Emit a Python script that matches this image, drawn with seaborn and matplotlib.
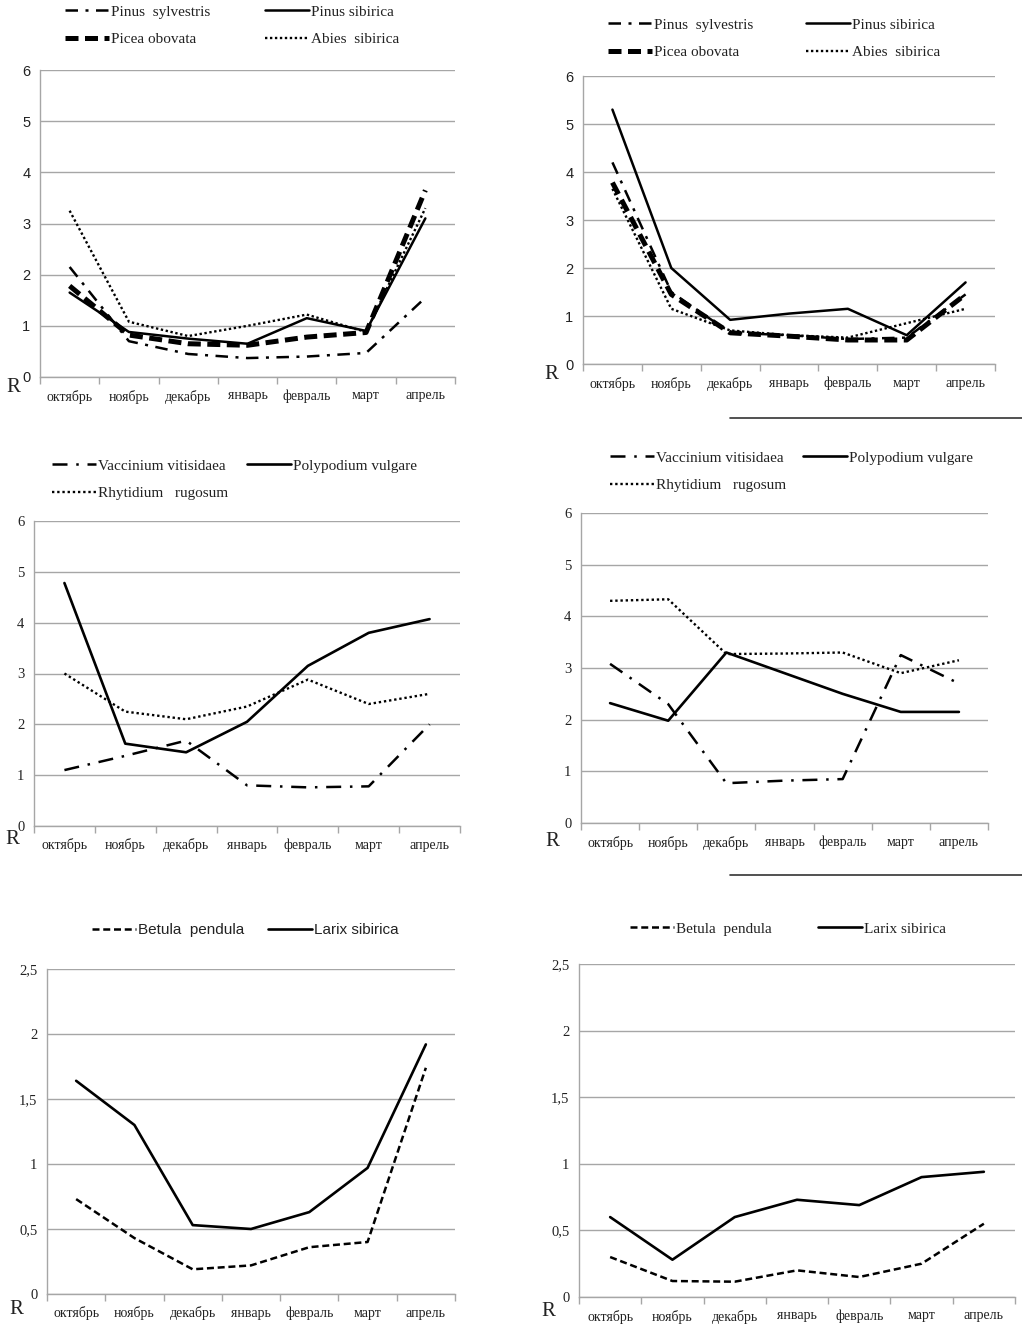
import matplotlib.pyplot as plt
import seaborn as sns
from matplotlib.lines import Line2D
from matplotlib.ticker import FixedLocator, FuncFormatter

sns.set_theme(style="white")
plt.rcParams['font.family'] = ['Liberation Serif', 'DejaVu Serif']

W, H = 1022, 1337

months = ['октябрь', 'ноябрь', 'декабрь', 'январь', 'февраль', 'март', 'апрель']

# conifers, left / right
pin_syl_a = [2.15, 0.70, 0.45, 0.37, 0.40, 0.47, 1.55]
pin_sib_a = [1.65, 0.88, 0.75, 0.65, 1.15, 0.90, 3.10]
picea_a = [1.78, 0.82, 0.65, 0.62, 0.78, 0.87, 3.65]
abies_a = [3.25, 1.08, 0.80, 1.00, 1.22, 0.88, 3.30]

pin_syl_b = [4.20, 1.50, 0.65, 0.60, 0.52, 0.55, 1.45]
pin_sib_b = [5.30, 2.00, 0.92, 1.05, 1.15, 0.60, 1.70]
picea_b = [3.78, 1.45, 0.65, 0.58, 0.50, 0.50, 1.45]
abies_b = [3.65, 1.15, 0.70, 0.60, 0.55, 0.85, 1.15]

# shrubs, ferns, mosses
vacc_a = [1.10, 1.38, 1.68, 0.80, 0.76, 0.78, 2.00]
poly_a = [4.78, 1.62, 1.45, 2.05, 3.15, 3.80, 4.07]
rhyt_a = [3.00, 2.25, 2.10, 2.35, 2.88, 2.40, 2.60]

vacc_b = [3.08, 2.30, 0.77, 0.82, 0.85, 3.25, 2.70]
poly_b = [2.32, 1.98, 3.30, 2.90, 2.50, 2.15, 2.15]
rhyt_b = [4.30, 4.33, 3.27, 3.28, 3.30, 2.90, 3.15]

# deciduous
betula_a = [0.73, 0.43, 0.19, 0.22, 0.36, 0.40, 1.74]
larix_a = [1.64, 1.30, 0.53, 0.50, 0.63, 0.97, 1.92]

betula_b = [0.30, 0.12, 0.115, 0.20, 0.15, 0.25, 0.55]
larix_b = [0.60, 0.28, 0.60, 0.73, 0.69, 0.90, 0.94]

styles = {
    'Pinus  sylvestris': dict(linestyle=(0, (5, 3, 1.2, 3)), linewidth=1.8),
    'Pinus sibirica': dict(linestyle='-', linewidth=1.8),
    'Picea obovata': dict(linestyle=(0, (2.6, 1.3)), linewidth=3.6),
    'Abies  sibirica': dict(linestyle=(0, (1, 1.1)), linewidth=1.7),
    'Vaccinium vitisidaea': dict(linestyle=(0, (6, 3.5, 1, 3.5)), linewidth=1.8),
    'Polypodium vulgare': dict(linestyle='-', linewidth=1.9),
    'Rhytidium   rugosum': dict(linestyle=(0, (1, 1.2)), linewidth=1.7),
    'Betula  pendula': dict(linestyle=(0, (2.8, 1.5)), linewidth=1.8),
    'Larix sibirica': dict(linestyle='-', linewidth=1.9),
}


def box(left, right, top, bottom):
    return [left / W, 1 - bottom / H, (right - left) / W, (bottom - top) / H]


def fc(x, y):
    return (x / W, 1 - y / H)


def comma(v, pos):
    return f"{v:g}".replace('.', ',')


def draw_panel(rect, series, ymax, ystep, ytick_font, legend_cols, legend_font, r_pos):
    ax = fig.add_axes(box(*rect))
    handles = {}
    for name, vals in series:
        sns.lineplot(x=months, y=vals, ax=ax, color='black', sort=False,
                     label=name, **styles[name])
        handles[name] = ax.get_lines()[-1]
    ax.get_legend().remove()
    ax.set_xlim(-0.5, 6.5)
    ax.set_ylim(0, ymax)
    yt = [i * ystep for i in range(int(round(ymax / ystep)) + 1)]
    ax.yaxis.set_major_locator(FixedLocator(yt))
    ax.yaxis.set_major_formatter(FuncFormatter(comma))
    ax.grid(axis='y', color='#a6a6a6', linewidth=1.0)
    ax.set_axisbelow(True)
    for s in ['top', 'right']:
        ax.spines[s].set_visible(False)
    for s in ['left', 'bottom']:
        ax.spines[s].set_color('#a6a6a6')
        ax.spines[s].set_linewidth(1.0)
    ax.set_xticks(range(7))
    ax.set_xticks([i - 0.5 for i in range(8)], minor=True)
    ax.tick_params(axis='x', which='major', length=0, pad=9, labelsize=10, colors='#222222')
    ax.tick_params(axis='x', which='minor', length=5, width=1, color='#a6a6a6', bottom=True)
    ax.tick_params(axis='y', length=0, pad=7, labelsize=10.5, colors='#222222')
    for t in ax.get_yticklabels():
        t.set_fontfamily(ytick_font)
    ax.set_xlabel('')
    ax.set_ylabel('')
    for (x, y, names) in legend_cols:
        leg = fig.legend([handles[n] for n in names], names, loc='upper left',
                         bbox_to_anchor=fc(x, y), bbox_transform=fig.transFigure,
                         frameon=False, borderpad=0, borderaxespad=0, handlelength=2.9,
                         handletextpad=0.1, labelspacing=0.9,
                         prop=dict(family=legend_font, size=11))
        for t in leg.get_texts():
            t.set_color('#222222')
    fig.text(*fc(*r_pos), 'R', fontsize=15, ha='left', va='center', color='#222222')
    return ax


fig = plt.figure(figsize=(W / 100, H / 100), dpi=100)

draw_panel((40, 455, 70, 377),
           [('Pinus  sylvestris', pin_syl_a), ('Pinus sibirica', pin_sib_a),
            ('Picea obovata', picea_a), ('Abies  sibirica', abies_a)],
           6, 1, 'Liberation Sans',
           [(65, 5, ['Pinus  sylvestris', 'Picea obovata']),
            (265, 5, ['Pinus sibirica', 'Abies  sibirica'])],
           'Liberation Serif', (6, 387))

draw_panel((583, 995, 76, 364),
           [('Pinus  sylvestris', pin_syl_b), ('Pinus sibirica', pin_sib_b),
            ('Picea obovata', picea_b), ('Abies  sibirica', abies_b)],
           6, 1, 'Liberation Sans',
           [(608, 18, ['Pinus  sylvestris', 'Picea obovata']),
            (806, 18, ['Pinus sibirica', 'Abies  sibirica'])],
           'Liberation Serif', (544, 375))

draw_panel((34, 460, 521, 826),
           [('Vaccinium vitisidaea', vacc_a), ('Polypodium vulgare', poly_a),
            ('Rhytidium   rugosum', rhyt_a)],
           6, 1, 'Liberation Serif',
           [(52, 459, ['Vaccinium vitisidaea', 'Rhytidium   rugosum']),
            (247, 459, ['Polypodium vulgare'])],
           'Liberation Serif', (5, 840))

draw_panel((581, 988, 513, 823),
           [('Vaccinium vitisidaea', vacc_b), ('Polypodium vulgare', poly_b),
            ('Rhytidium   rugosum', rhyt_b)],
           6, 1, 'Liberation Serif',
           [(610, 451, ['Vaccinium vitisidaea', 'Rhytidium   rugosum']),
            (803, 451, ['Polypodium vulgare'])],
           'Liberation Serif', (545, 841))

draw_panel((47, 455, 969, 1294),
           [('Betula  pendula', betula_a), ('Larix sibirica', larix_a)],
           2.5, 0.5, 'Liberation Serif',
           [(92, 923, ['Betula  pendula']), (268, 923, ['Larix sibirica'])],
           'Liberation Sans', (9, 1310))

draw_panel((579, 1015, 964, 1297),
           [('Betula  pendula', betula_b), ('Larix sibirica', larix_b)],
           2.5, 0.5, 'Liberation Serif',
           [(630, 922, ['Betula  pendula']), (818, 922, ['Larix sibirica'])],
           'Liberation Serif', (541, 1311))

# separator rules under the right-hand panels
for y in (418, 875):
    fig.add_artist(Line2D([730 / W, 1.0], [1 - y / H, 1 - y / H],
                          transform=fig.transFigure, color='#333333', linewidth=1.2))

fig.savefig('out.png', dpi=100, facecolor='white')
